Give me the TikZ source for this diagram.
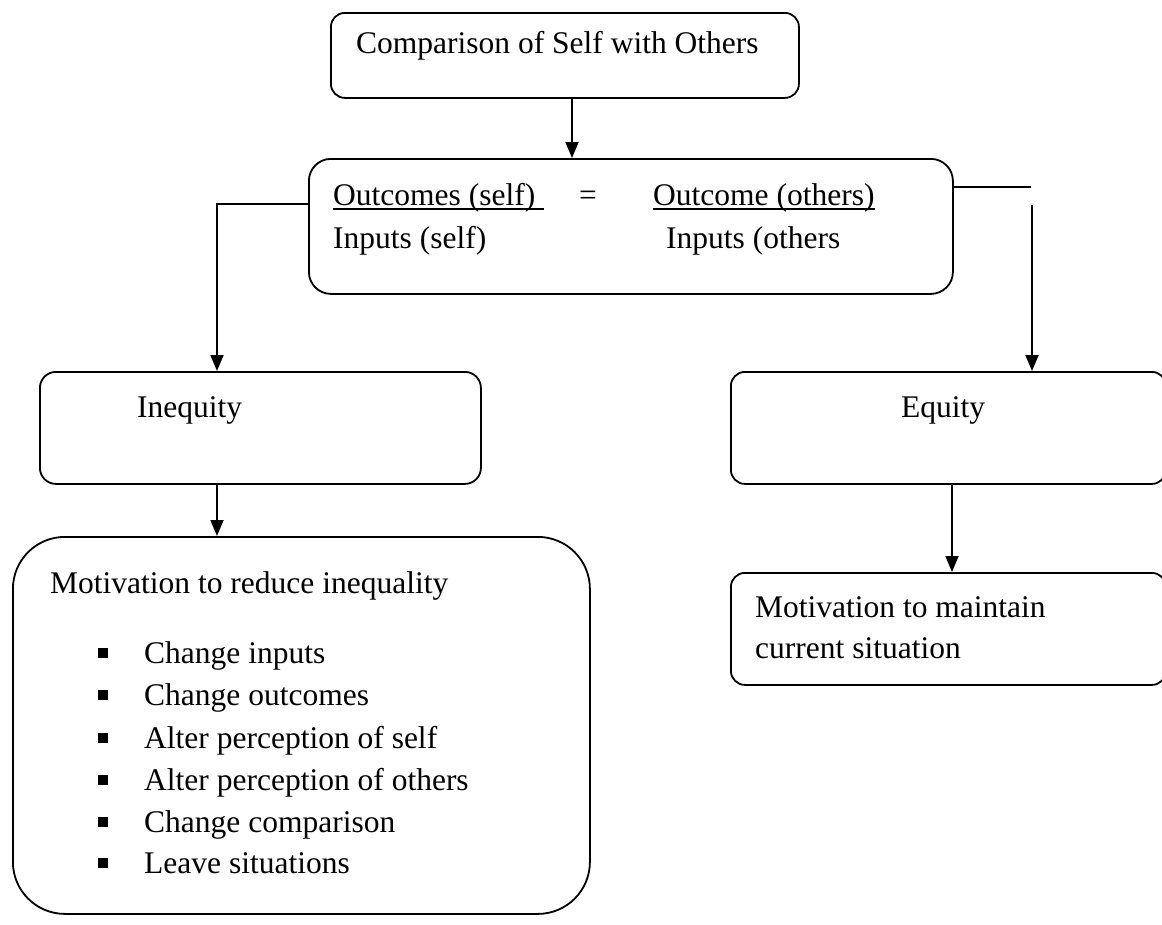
\documentclass[tikz,border=0pt]{standalone}
\usepackage{fontspec}
\setmainfont{Liberation Serif}
\usetikzlibrary{arrows.meta}
\begin{document}
\begin{tikzpicture}[x=1pt,y=-1pt,
  box/.style={draw, line width=1.8pt, rounded corners=#1, inner sep=0, anchor=north west},
  box/.default=15pt,
  txt/.style={inner sep=0, anchor=base west, font=\fontsize{31.5}{42}\selectfont},
  link/.style={line width=1.8pt},
  arr/.style={link, -{Triangle[length=16pt,width=13pt]}},
  ul/.style={line width=1.6pt},
  sq/.style={fill, inner sep=0, minimum size=9.5pt}]
\useasboundingbox (0,0) rectangle (1162,924);
\clip (0,0) rectangle (1162,924);

% boxes
\node[box=14pt, minimum width=468pt, minimum height=85pt]  (top)  at (330,12)  {};
\node[box=22pt, minimum width=644pt, minimum height=135pt] (mid)  at (308,158) {};
\node[box=16pt, minimum width=441pt, minimum height=112pt] (ineq) at (39,371)  {};
\node[box=14pt, minimum width=435pt, minimum height=112pt] (eq)   at (730,371) {};
\node[box=52pt, minimum width=577pt, minimum height=377pt] (mot)  at (12,536)  {};
\node[box=14pt, minimum width=435pt, minimum height=112pt] (keep) at (730,572) {};

% texts
\node[txt] (t0) at (356,53) {Comparison of Self with Others};
\node[txt] (o1) at (333,205) {Outcomes (self)};
\node[txt, anchor=base] (eqs) at (588,205) {=};
\node[txt] (o2) at (653,205) {Outcome (others)};
\node[txt] (i1) at (333,248) {Inputs (self)};
\node[txt] (i2) at (666,248) {Inputs (others};
\draw[ul] ([yshift=-4pt]o1.base west) -- ([xshift=9pt,yshift=-4pt]o1.base east);
\draw[ul] ([yshift=-4pt]o2.base west) -- ([yshift=-4pt]o2.base east);

\node[txt] (t3) at (137,417) {Inequity};
\node[txt, anchor=base] (t4) at (943,417) {Equity};

\node[txt] (t5) at (50,593) {Motivation to reduce inequality};
\foreach \y/\s [count=\i] in {663/Change inputs, 705/Change outcomes,
    748/Alter perception of self, 790/Alter perception of others,
    832/Change comparison, 873/Leave situations} {
  \node[sq] (b\i) at (103,\y-10) {};
  \node[txt] (l\i) at (144,\y) {\s};
}

\node[txt] (m1) at (755,617) {Motivation to maintain};
\node[txt] (m2) at (755,658) {current situation};

% connectors
\coordinate (ax) at (572,0);
\draw[arr] (top.south -| ax) -- (mid.north -| ax);
\coordinate (lk) at (217,204);
\draw[arr] (mid.west |- lk) -| (ineq.north -| lk);
\draw[arr] (ineq.south -| lk) -- (mot.north -| lk);
\coordinate (rk) at (1031,187);
\draw[link] (mid.east |- rk) -- (rk);
\coordinate (rs) at (1032,205);
\draw[arr] (rs) -- (eq.north -| rs);
\coordinate (ek) at (952,0);
\draw[arr] (eq.south -| ek) -- (keep.north -| ek);
\end{tikzpicture}
\end{document}
